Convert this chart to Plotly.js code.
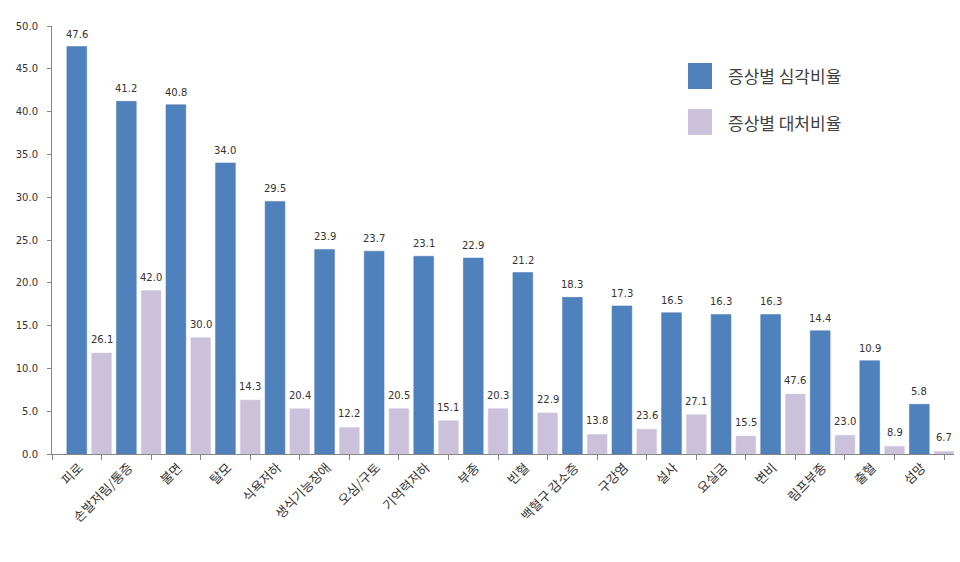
<!DOCTYPE html>
<html>
<head>
<meta charset="utf-8">
<script src="https://cdn.plot.ly/plotly-3.0.1.min.js"></script>
<style>
  html, body { margin: 0; padding: 0; background: #ffffff; }
  #chart { width: 960px; height: 562px; }
</style>
</head>
<body>
<div id="chart"></div>
<script>
// symptom categories, left to right
const categories = ['피로', '손발저림/통증', '불면', '탈모', '식욕저하', '생식기능장애', '오심/구토',
  '기억력저하', '부종', '빈혈', '백혈구 감소증', '구강염', '설사', '요실금', '변비', '림프부종', '출혈', '섬망'];

const seriesNames = ['증상별 심각비율', '증상별 대처비율'];

// blue bars (height = label)
const severityRate = [47.6, 41.2, 40.8, 34.0, 29.5, 23.9, 23.7, 23.1, 22.9, 21.2, 18.3, 17.3, 16.5, 16.3, 16.3, 14.4, 10.9, 5.8];

// purple bars: printed labels and the drawn bar heights differ in the source chart
const responseLabels = [26.1, 42.0, 30.0, 14.3, 20.4, 12.2, 20.5, 15.1, 20.3, 22.9, 13.8, 23.6, 27.1, 15.5, 47.6, 23.0, 8.9, 6.7];
const responseBars = [11.8, 19.1, 13.6, 6.3, 5.3, 3.1, 5.3, 3.9, 5.3, 4.8, 2.3, 2.9, 4.6, 2.1, 7.0, 2.2, 0.9, 0.3];

const COLORS = { BLUE: '#4F81BD', PURPLE: '#CCC1DA', AXIS: '#868686', TEXT: '#333333' };
const NUM_FONT = 'DejaVu Sans, Verdana, sans-serif';
const KR_FONT = 'Noto Sans CJK KR, Noto Sans, sans-serif';

const W = 960, H = 562;
const margin = { l: 52, r: 6, t: 26, b: 108, pad: 0 };
const px2x = px => (px - margin.l) / (W - margin.l - margin.r);
const px2y = py => 1 - (py - margin.t) / (H - margin.t - margin.b);

const idx = categories.map((_, i) => i);

const traces = [
  {
    type: 'bar',
    name: seriesNames[0],
    x: idx,
    y: severityRate,
    marker: { color: COLORS.BLUE, line: { color: '#4A7AB4', width: 0.5 } },
    hoverinfo: 'skip'
  },
  {
    type: 'bar',
    name: seriesNames[1],
    x: idx,
    y: responseBars,
    marker: { color: COLORS.PURPLE, line: { color: '#D6CDE2', width: 0.5 } },
    hoverinfo: 'skip'
  }
];

// value labels above bars
const labelFont = { family: NUM_FONT, size: 10, color: COLORS.TEXT };
const annotations = [];
idx.forEach(i => {
  annotations.push({
    x: i - 0.25, y: severityRate[i], xref: 'x', yref: 'y',
    text: severityRate[i].toFixed(1), showarrow: false,
    yanchor: 'bottom', yshift: 5, font: labelFont
  });
  annotations.push({
    x: i + 0.25, y: responseBars[i], xref: 'x', yref: 'y',
    text: responseLabels[i].toFixed(1), showarrow: false,
    yanchor: 'bottom', yshift: 6, font: labelFont
  });
});

// legend drawn by hand so the swatches can be large
const legendColors = [COLORS.BLUE, COLORS.PURPLE];
const legendTop = [63, 109];
const shapes = [];
seriesNames.forEach((name, k) => {
  shapes.push({
    type: 'rect', xref: 'paper', yref: 'paper',
    x0: px2x(688), x1: px2x(712),
    y0: px2y(legendTop[k] + 26), y1: px2y(legendTop[k]),
    fillcolor: legendColors[k], line: { width: 0 }
  });
  annotations.push({
    xref: 'paper', yref: 'paper',
    x: px2x(726), y: px2y(legendTop[k] + 13),
    xanchor: 'left', yanchor: 'middle',
    text: name, showarrow: false,
    font: { family: KR_FONT, size: 17, color: '#404040' }
  });
});

const layout = {
  width: W,
  height: H,
  margin: margin,
  paper_bgcolor: '#ffffff',
  plot_bgcolor: '#ffffff',
  showlegend: false,
  barmode: 'group',
  bargap: 0,
  bargroupgap: 0.2,
  xaxis: {
    type: 'linear',
    range: [-0.75, 17.45],
    tickmode: 'array',
    tickvals: idx.map(i => i - 0.2),
    ticktext: categories,
    tickangle: -45,
    ticks: '',
    tickfont: { family: KR_FONT, size: 13, color: COLORS.TEXT },
    showline: true,
    linecolor: COLORS.AXIS,
    linewidth: 1,
    showgrid: false,
    zeroline: false,
    minor: {
      tickmode: 'array',
      tickvals: [-0.75].concat(idx.map(i => i + 0.25)),
      ticks: 'outside',
      ticklen: 5,
      tickcolor: COLORS.AXIS,
      showgrid: false
    }
  },
  yaxis: {
    range: [0, 50],
    dtick: 5,
    tickformat: '.1f',
    ticks: 'outside',
    ticklen: 4,
    tickcolor: COLORS.AXIS,
    ticklabelstandoff: 7,
    tickfont: { family: NUM_FONT, size: 10, color: COLORS.TEXT },
    showline: true,
    linecolor: COLORS.AXIS,
    linewidth: 1,
    showgrid: false,
    zeroline: false
  },
  shapes: shapes,
  annotations: annotations
};

const config = { displayModeBar: false, staticPlot: true };

Plotly.newPlot('chart', traces, layout, config);
</script>
</body>
</html>
